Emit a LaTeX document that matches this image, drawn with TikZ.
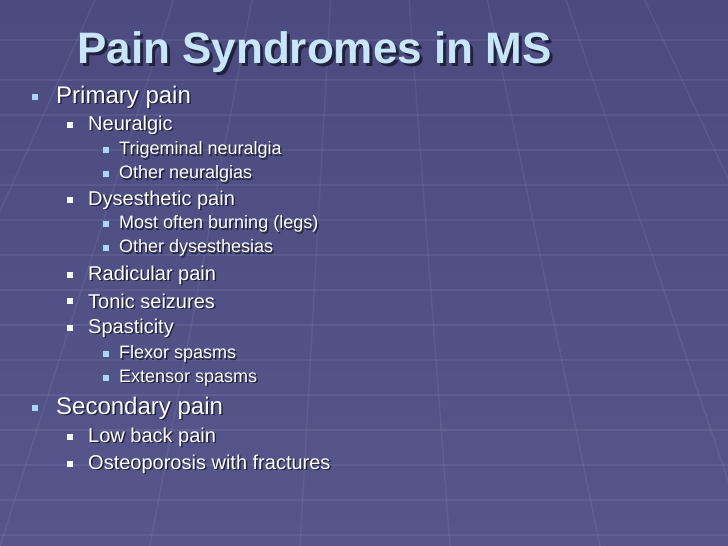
\documentclass[tikz,border=0pt]{standalone}
\usepackage{fontspec}
\setmainfont{Liberation Sans}
\definecolor{bgc}{HTML}{4B4B80}
\definecolor{bgd}{HTML}{56568C}
\definecolor{ttl}{HTML}{C8E6FA}
\definecolor{bl}{HTML}{A8D8F8}
\definecolor{shd}{HTML}{22223E}
\tikzset{
 txt/.style={anchor=west,inner sep=0pt,text=white,font=#1},
 tsh/.style={anchor=west,inner sep=0pt,text=shd,font=#1},
 bul/.style={fill=#1,draw=none},
}
\newcommand{\itm}[6]{% text, bulletx, textx, y, fontsize, bullet color
 \fill[bul=#6] (#2-3,#4-3) rectangle ++(6,6);
 \node[tsh={\fontsize{#5}{#5}\selectfont}] at (#3+1.5,#4+1.5) {#1};
 \node[txt={\fontsize{#5}{#5}\selectfont}] at (#3,#4) {#1};}
\begin{document}
\begin{tikzpicture}[x=1pt,y=-1pt]
\shade[top color=bgc,bottom color=bgd] (0,0) rectangle (728,546);
\useasboundingbox (0,0) rectangle (728,546);
\begin{scope}[draw=white,opacity=0.06,line width=1.5pt]
\foreach \yy in {40,80,115,150,185,220,255,290,325,360,395,430,465,500,535}
  \draw (0,\yy) -- (728,\yy);
\foreach \xx in {-900,-600,-350,-150,0,150,300,450,600,750,900,1100,1400}
  \draw (364,-600) -- (\xx,546);
\end{scope}
\node[anchor=base west,inner sep=0pt,text=shd,font=\fontsize{44}{44}\selectfont\bfseries] (t0) at (80,66) {Pain Syndromes in MS};
\node[anchor=base west,inner sep=0pt,text=ttl,font=\fontsize{44}{44}\selectfont\bfseries] (t) at (77,63) {Pain Syndromes in MS};
\itm{Primary pain}{35}{56}{97}{24}{bl}
\itm{Neuralgic}{70}{88}{125}{20}{white!90!bl}
\itm{Trigeminal neuralgia}{106}{119}{150}{18}{bl}
\itm{Other neuralgias}{106}{119}{174}{18}{bl}
\itm{Dysesthetic pain}{70}{88}{200}{20}{white!90!bl}
\itm{Most often burning (legs)}{106}{119}{224}{18}{bl}
\itm{Other dysesthesias}{106}{119}{248}{18}{bl}
\itm{Radicular pain}{70}{88}{275}{20}{white!90!bl}
\itm{Tonic seizures}{70}{88}{301}{20}{white!90!bl}
\itm{Spasticity}{70}{88}{328}{20}{white!90!bl}
\itm{Flexor spasms}{106}{119}{354}{18}{bl}
\itm{Extensor spasms}{106}{119}{378}{18}{bl}
\itm{Secondary pain}{35}{56}{408}{24}{bl}
\itm{Low back pain}{70}{88}{437}{20}{white!90!bl}
\itm{Osteoporosis with fractures}{70}{88}{464}{20}{white!90!bl}
\end{tikzpicture}
\end{document}
